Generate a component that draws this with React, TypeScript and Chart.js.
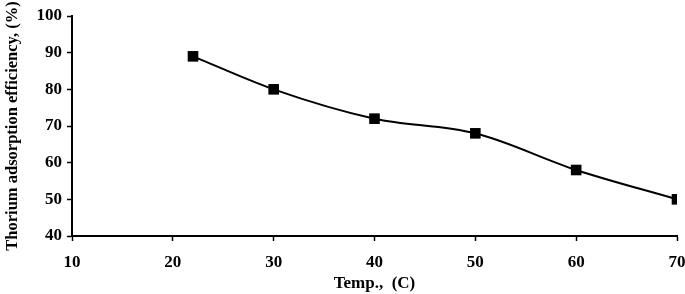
import React, { useEffect, useRef } from "react";
import { Chart, registerables } from "chart.js";

Chart.register(...registerables);

const temps = [22, 30, 40, 50, 60, 70];
const efficiency = [89, 80, 72, 68, 58, 50];
const xTitle = "Temp.,  (C)";
const yTitle = "Thorium adsorption efficiency, (%)";

export default function App() {
  const ref = useRef<HTMLCanvasElement | null>(null);
  useEffect(() => {
    if (!ref.current) return;
    const fam = "'Liberation Serif', 'Times New Roman', serif";
    const tickFont = { family: fam, weight: "bold" as const, size: 17 };
    const xTitleFont = { family: fam, weight: "bold" as const, size: 17 };
    const yTitleFont = { family: fam, weight: "bold" as const, size: 16.5 };
    const chart = new Chart(ref.current, {
      type: "line",
      data: {
        datasets: [
          {
            data: temps.map((t, i) => ({ x: t, y: efficiency[i] })),
            borderColor: "#000",
            backgroundColor: "#000",
            borderWidth: 2,
            tension: 0.4,
            cubicInterpolationMode: "monotone",
            pointStyle: "rect",
            pointRadius: 7.5,
            pointBorderWidth: 0,
            pointBackgroundColor: "#000",
          },
        ],
      },
      options: {
        animation: false,
        responsive: false,
        layout: { padding: { top: 16, right: 8, left: 0, bottom: 0 } },
        plugins: { legend: { display: false }, tooltip: { enabled: false } },
        scales: {
          x: {
            type: "linear",
            min: 10,
            max: 70,
            ticks: { stepSize: 10, color: "#000", font: tickFont, padding: 11, maxRotation: 0 },
            grid: { drawOnChartArea: false, tickLength: 5, tickColor: "#000", tickWidth: 1.5 },
            border: { color: "#000", width: 2 },
            title: { display: true, text: xTitle, color: "#000", font: xTitleFont, padding: { top: 0, bottom: 0 } },
            afterFit: (s: any) => {
              s.height = 58;
              s.paddingLeft = 0;
              s.paddingRight = 0;
            },
          },
          y: {
            min: 40,
            max: 100,
            ticks: { stepSize: 10, color: "#000", font: tickFont, padding: 5 },
            grid: { drawOnChartArea: false, tickLength: 5, tickColor: "#000", tickWidth: 1.5 },
            border: { color: "#000", width: 2 },
            title: { display: true, text: yTitle, color: "#000", font: yTitleFont, padding: { top: 3, bottom: 4 } },
            afterFit: (s: any) => {
              s.width = 72;
              s.paddingTop = 0;
              s.paddingBottom = 0;
            },
          },
        },
      },
    });
    return () => chart.destroy();
  }, []);
  return (
    <div style={{ position: "fixed", left: 0, top: 0, width: 685, height: 294, background: "#fff" }}>
      <canvas ref={ref} width={685} height={294} style={{ width: 685, height: 294 }} />
    </div>
  );
}
